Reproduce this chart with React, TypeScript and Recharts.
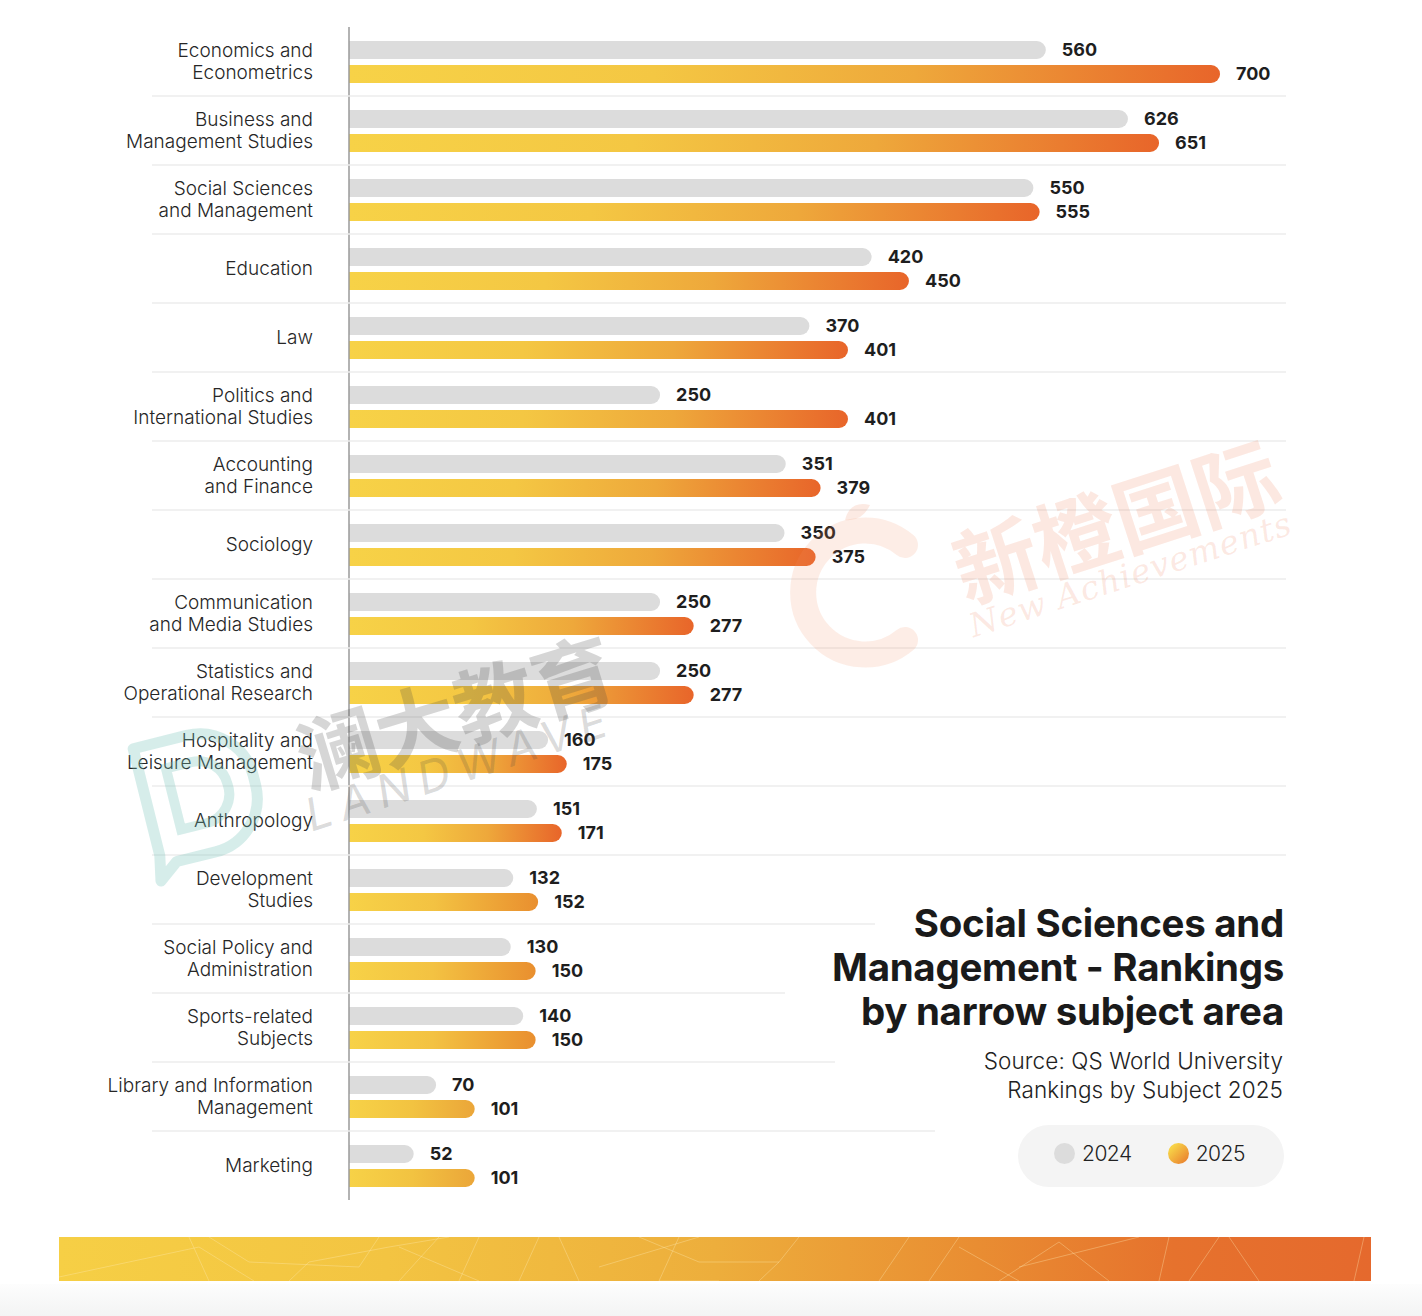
import React from "react";
import { BarChart, Bar, XAxis, YAxis, LabelList, Cell } from "recharts";

// ---------- data ----------
const categories = [
  "Economics and\nEconometrics",
  "Business and\nManagement Studies",
  "Social Sciences\nand Management",
  "Education",
  "Law",
  "Politics and\nInternational Studies",
  "Accounting\nand Finance",
  "Sociology",
  "Communication\nand Media Studies",
  "Statistics and\nOperational Research",
  "Hospitality and\nLeisure Management",
  "Anthropology",
  "Development\nStudies",
  "Social Policy and\nAdministration",
  "Sports-related\nSubjects",
  "Library and Information\nManagement",
  "Marketing",
];
const values2024 = [560, 626, 550, 420, 370, 250, 351, 350, 250, 250, 160, 151, 132, 130, 140, 70, 52];
const values2025 = [700, 651, 555, 450, 401, 401, 379, 375, 277, 277, 175, 171, 152, 150, 150, 101, 101];
const seriesNames = ["2024", "2025"];

const titleLines = ["Social Sciences and", "Management - Rankings", "by narrow subject area"];
const sourceLines = ["Source: QS World University", "Rankings by Subject 2025"];

// ---------- layout constants ----------
const W = 1422;
const H = 1316;
const MARGIN = { top: 27, right: 136, bottom: 116, left: 0 };
const X_MAX = 753;
const ROW_H = (H - MARGIN.top - MARGIN.bottom) / categories.length;
const SEP_X1 = 152;
const sepEndsPx = [1286, 1286, 1286, 1286, 1286, 1286, 1286, 1286, 1286, 1286, 1286, 1286, 875, 785, 835, 935];

const data = categories.map((c, i) => ({ cat: c, y2024: values2024[i], y2025: values2025[i] }));

const FONT = "Inter, Lato, 'Noto Sans', sans-serif";

const CategoryTick = (props: any) => {
  const { x, y, payload, index } = props;
  const lines = String(payload.value).split("\n");
  const lh = 22;
  const y0 = y - ((lines.length - 1) * lh) / 2;
  const sepY = y + ROW_H / 2;
  return (
    <g>
      {index < categories.length - 1 && (
        <line x1={SEP_X1} x2={sepEndsPx[index]} y1={sepY} y2={sepY} stroke="#ececec" strokeWidth={1.5} />
      )}
      <text x={x} y={y0} textAnchor="end" fill="#262626" fontSize={19} fontWeight={300} fontFamily={FONT}>
        {lines.map((l, i) => (
          <tspan key={i} x={x} y={y0 + i * lh} dy="0.36em">
            {l}
          </tspan>
        ))}
      </text>
    </g>
  );
};

const fillFor = (v: number) => (v >= 170 ? "url(#gFull)" : v >= 140 ? "url(#gMid)" : "url(#gShort)");

const wmBase: React.CSSProperties = {
  position: "absolute",
  transformOrigin: "left top",
  whiteSpace: "nowrap",
  pointerEvents: "none",
};

export default function App() {
  return (
    <div style={{ position: "relative", width: W, height: H, background: "#fff", overflow: "hidden" }}>
      <style>{"body{margin:0;background:#fff}"}</style>
      <BarChart
        width={W}
        height={H}
        data={data}
        layout="vertical"
        margin={MARGIN}
        barCategoryGap={13}
        barGap={6}
      >
        <defs>
          <linearGradient id="gFull" x1="0" y1="0" x2="1" y2="0">
            <stop offset="0%" stopColor="#F7D247" />
            <stop offset="35%" stopColor="#F4C743" />
            <stop offset="65%" stopColor="#EEA83B" />
            <stop offset="100%" stopColor="#E8652A" />
          </linearGradient>
          <linearGradient id="gMid" x1="0" y1="0" x2="1" y2="0">
            <stop offset="0%" stopColor="#F7D247" />
            <stop offset="45%" stopColor="#F3C242" />
            <stop offset="100%" stopColor="#E98F2F" />
          </linearGradient>
          <linearGradient id="gShort" x1="0" y1="0" x2="1" y2="0">
            <stop offset="0%" stopColor="#F7D247" />
            <stop offset="50%" stopColor="#F2C341" />
            <stop offset="100%" stopColor="#EBA639" />
          </linearGradient>
        </defs>
        <XAxis type="number" domain={[0, X_MAX]} hide />
        <YAxis
          type="category"
          dataKey="cat"
          width={349}
          tickLine={false}
          tickSize={6}
          tickMargin={30}
          axisLine={{ stroke: "#9a9a9a", strokeWidth: 1.5 }}
          tick={<CategoryTick />}
          interval={0}
        />
        <Bar dataKey="y2024" name={seriesNames[0]} fill="#DCDCDC" barSize={18} radius={[0, 9, 9, 0]} isAnimationActive={false}>
          <LabelList dataKey="y2024" position="right" offset={16} fill="#1e1e1e" fontSize={18} fontWeight={700} fontFamily={FONT} />
        </Bar>
        <Bar dataKey="y2025" name={seriesNames[1]} barSize={18} radius={[0, 9, 9, 0]} isAnimationActive={false}>
          {values2025.map((v, i) => (
            <Cell key={i} fill={fillFor(v)} />
          ))}
          <LabelList dataKey="y2025" position="right" offset={16} fill="#1e1e1e" fontSize={18} fontWeight={700} fontFamily={FONT} />
        </Bar>
      </BarChart>

      {/* watermark logos */}
      <svg width={W} height={H} style={{ position: "absolute", left: 0, top: 0, pointerEvents: "none" }}>
        <path
          d="M 905 545 A 62 62 0 1 0 905 640"
          fill="none"
          stroke="rgba(240,140,100,0.16)"
          strokeWidth={26}
          strokeLinecap="round"
        />
        <path d="M 845 520 Q 850 500 870 505 Q 862 522 845 520 Z" fill="rgba(240,140,100,0.18)" />
        <g transform="rotate(-14 195 790)">
          <path
            d="M 145 735 L 200 735 A 55 55 0 0 1 255 790 L 255 800 A 55 55 0 0 1 200 855 L 160 855 L 140 870 L 145 845 Z"
            fill="none"
            stroke="rgba(120,195,185,0.3)"
            strokeWidth={11}
            strokeLinejoin="round"
          />
          <path
            d="M 172 762 L 198 762 A 30 30 0 0 1 228 792 A 30 30 0 0 1 198 825 L 172 825 Z"
            fill="none"
            stroke="rgba(120,195,185,0.3)"
            strokeWidth={10}
          />
        </g>
      </svg>

      {/* watermark text */}
      <div
        style={{
          ...wmBase, left: 936, top: 512, fontSize: 84, fontWeight: 700, color: "rgba(236,120,80,0.17)",
          fontFamily: "'Noto Sans CJK SC', sans-serif", transform: "rotate(-18deg)",
        }}
      >
        新橙国际
      </div>
      <div
        style={{
          ...wmBase, left: 964, top: 608, fontSize: 33, fontStyle: "italic", color: "rgba(236,120,80,0.17)",
          fontFamily: "'DejaVu Serif', serif", transform: "rotate(-18deg)", letterSpacing: 1,
        }}
      >
        New Achievements
      </div>
      <div
        style={{
          ...wmBase, left: 280, top: 700, fontSize: 82, fontWeight: 700, color: "rgba(70,70,70,0.22)",
          fontFamily: "'Noto Sans CJK SC', sans-serif", transform: "rotate(-17deg)",
        }}
      >
        澜大教育
      </div>
      <div
        style={{
          ...wmBase, left: 298, top: 790, fontSize: 45, fontStyle: "italic", color: "rgba(70,70,70,0.2)",
          fontFamily: FONT, transform: "rotate(-18deg)", letterSpacing: 9,
        }}
      >
        LANDWAVE
      </div>

      {/* title */}
      <div
        style={{
          position: "absolute", right: W - 1284, top: 901, textAlign: "right", fontFamily: FONT, fontWeight: 700,
          fontSize: 38.5, lineHeight: "44px", color: "#1a1a1a", letterSpacing: -0.3, whiteSpace: "nowrap",
        }}
      >
        {titleLines.map((t, i) => (
          <div key={i}>{t}</div>
        ))}
      </div>
      <div
        style={{
          position: "absolute", right: W - 1283, top: 1046, textAlign: "right", fontFamily: FONT, fontWeight: 300,
          fontSize: 22.5, lineHeight: "29px", color: "#222", whiteSpace: "nowrap", letterSpacing: 0.1,
        }}
      >
        {sourceLines.map((t, i) => (
          <div key={i}>{t}</div>
        ))}
      </div>

      {/* legend */}
      <div
        style={{
          position: "absolute", left: 1018, top: 1125, width: 266, height: 62, borderRadius: 31, background: "#f4f4f4",
          display: "flex", alignItems: "center", fontFamily: FONT, fontWeight: 300, fontSize: 21, color: "#222",
          letterSpacing: -0.5,
        }}
      >
        <div style={{ marginLeft: 36, marginTop: -5, width: 21, height: 21, borderRadius: "50%", background: "#dcdcdc" }} />
        <div style={{ marginLeft: 7, marginTop: -5 }}>{seriesNames[0]}</div>
        <div
          style={{
            marginLeft: 36, marginTop: -5, width: 21, height: 21, borderRadius: "50%",
            background: "linear-gradient(135deg, #F7D247 20%, #E8762B 100%)",
          }}
        />
        <div style={{ marginLeft: 7, marginTop: -5 }}>{seriesNames[1]}</div>
      </div>

      {/* bottom banner */}
      <div
        style={{
          position: "absolute", left: 59, top: 1237, width: 1312, height: 44,
          background: "linear-gradient(90deg, #F6CF45 0%, #F3C442 25%, #EDAE3C 50%, #E98D32 70%, #E6722D 85%, #E5692D 100%)",
        }}
      />
      <svg width={1312} height={44} style={{ position: "absolute", left: 59, top: 1237, pointerEvents: "none" }}>
        <g stroke="rgba(255,235,180,0.35)" strokeWidth={1} fill="none">
          <polyline points="0,40 140,10 195,44" />
          <polyline points="130,0 150,44" />
          <polyline points="150,0 190,25 300,30 320,0" />
          <polyline points="230,44 250,25 330,10 390,0" />
          <polyline points="380,0 340,44" />
          <polyline points="340,10 420,44" />
          <polyline points="420,0 400,44" />
          <polyline points="480,0 460,44" />
          <polyline points="500,0 520,44" />
          <polyline points="540,30 640,0" />
          <polyline points="620,0 600,44 660,44" />
          <polyline points="580,0 640,25 720,25 740,0" />
          <polyline points="700,44 720,25" />
          <polyline points="850,0 820,44" />
          <polyline points="900,0 870,44" />
          <polyline points="900,10 960,44" />
          <polyline points="940,44 1000,5 1050,44" />
          <polyline points="960,30 1080,0" />
          <polyline points="1110,0 1100,44" />
          <polyline points="1160,0 1130,44" />
          <polyline points="1170,0 1200,44" />
          <polyline points="1305,0 1295,44" />
        </g>
      </svg>
      <div
        style={{
          position: "absolute", left: 0, top: 1284, width: W, height: 32,
          background: "linear-gradient(180deg, #fdfdfd 0%, #f3f4f4 100%)",
        }}
      />
    </div>
  );
}
